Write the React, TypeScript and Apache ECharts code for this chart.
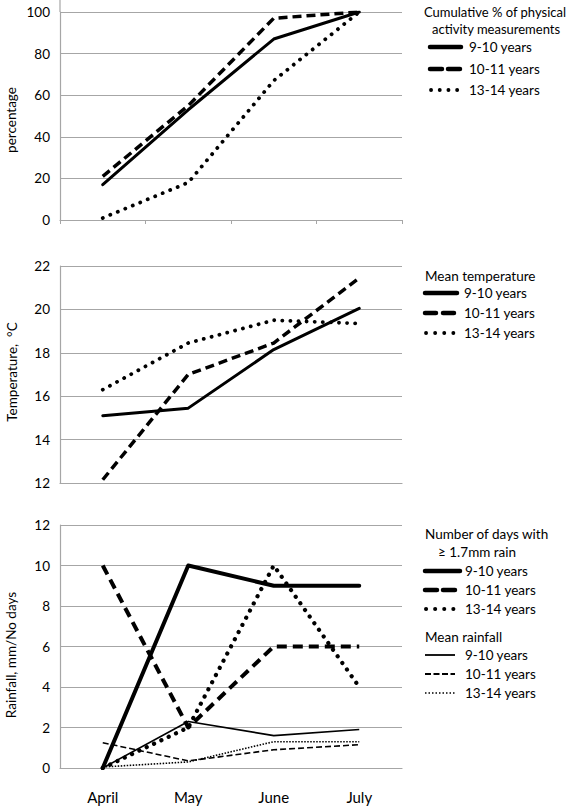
import React, { useEffect, useRef } from "react";
import * as echarts from "echarts";

const months = ["April", "May", "June", "July"];

const yTicksPct = { min: 0, max: 100, interval: 20 };
const yTicksTemp = { min: 12, max: 22, interval: 2 };
const yTicksRain = { min: 0, max: 12, interval: 2 };

const pct_9_10 = [17, 53, 87, 100];
const pct_10_11 = [21, 55, 97, 100];
const pct_13_14 = [1, 18, 67, 100];

const temp_9_10 = [15.1, 15.45, 18.15, 20.05];
const temp_10_11 = [12.15, 17.0, 18.45, 21.45];
const temp_13_14 = [16.3, 18.45, 19.5, 19.35];

const days_9_10 = [0, 10, 9, 9];
const days_10_11 = [10, 2, 6, 6];
const days_13_14 = [0, 2, 10, 4];

const meanRain_9_10 = [0, 2.3, 1.6, 1.9];
const meanRain_10_11 = [1.25, 0.35, 0.9, 1.15];
const meanRain_13_14 = [0.05, 0.3, 1.3, 1.3];

const FONT = "Lato";
const GRID_COLOR = "#a6a6a6";

function line(name: string, idx: number, data: number[], style: any) {
  return {
    name,
    type: "line",
    xAxisIndex: idx,
    yAxisIndex: idx,
    data,
    symbol: "none",
    showSymbol: false,
    lineStyle: { color: "#000", join: "round", ...style },
  };
}

const SOLID = { width: 3, type: "solid", cap: "round" };
const DASH = { width: 3.5, type: [9, 5], cap: "butt" };
const DOT = { width: 3.8, type: [0.1, 8], cap: "round" };

function txt(text: string, x: number, y: number, size = 13.5, extra: any = {}) {
  return {
    type: "text",
    x,
    y,
    silent: true,
    ...extra,
    style: {
      text,
      fill: "#000",
      font: `${size}px ${FONT}`,
      align: "left",
      verticalAlign: "middle",
      textAlign: "left",
      textVerticalAlign: "middle",
      ...(extra.style || {}),
    },
  };
}

function seg(x1: number, x2: number, y: number, width: number, dash: any, cap = "butt") {
  return {
    type: "line",
    silent: true,
    shape: { x1, y1: y, x2, y2: y },
    style: { stroke: "#000", lineWidth: width, lineDash: dash, lineCap: cap },
  };
}

function rotTxt(text: string, x: number, y: number) {
  return {
    type: "text",
    x,
    y,
    rotation: Math.PI / 2,
    silent: true,
    style: {
      text,
      fill: "#000",
      font: `13.5px ${FONT}`,
      align: "center",
      verticalAlign: "middle",
      textAlign: "center",
      textVerticalAlign: "middle",
    },
  };
}

export default function App() {
  const ref = useRef<HTMLDivElement>(null);
  useEffect(() => {
    document.body.style.margin = "0";
    const chart = echarts.init(ref.current!, null, { renderer: "svg" });
    const grids = [
      { left: 60, right: 165, top: 12, height: 208 },
      { left: 60, right: 165, top: 266, height: 217 },
      { left: 60, right: 165, top: 525, height: 243 },
    ];
    const axisLine = { show: true, lineStyle: { color: GRID_COLOR, width: 1.2 } };
    const xAxes = [0, 1, 2].map((i) => ({
      type: "category",
      gridIndex: i,
      data: months,
      boundaryGap: true,
      axisLine,
      axisTick: i === 0 ? { show: true, length: 4, lineStyle: { color: GRID_COLOR } } : { show: false },
      axisLabel:
        i === 2
          ? { show: true, color: "#000", fontSize: 15, fontFamily: FONT, margin: 21 }
          : { show: false },
      splitLine: { show: false },
    }));
    const yDefs = [yTicksPct, yTicksTemp, yTicksRain];
    const yAxes = yDefs.map((d, i) => ({
      type: "value",
      gridIndex: i,
      min: d.min,
      max: d.max,
      interval: d.interval,
      axisLine,
      axisTick: { show: false },
      axisLabel: { color: "#000", fontSize: 13.5, fontFamily: FONT, margin: 10 },
      splitLine: { show: true, lineStyle: { color: GRID_COLOR, width: 1.2 } },
    }));

    const series = [
      line("9-10 years", 0, pct_9_10, SOLID),
      line("10-11 years", 0, pct_10_11, DASH),
      line("13-14 years", 0, pct_13_14, DOT),
      line("9-10 years", 1, temp_9_10, SOLID),
      line("10-11 years", 1, temp_10_11, DASH),
      line("13-14 years", 1, temp_13_14, DOT),
      line("Days 9-10 years", 2, days_9_10, { width: 4, type: "solid", cap: "round" }),
      line("Days 10-11 years", 2, days_10_11, { width: 4, type: [10, 6], cap: "butt" }),
      line("Days 13-14 years", 2, days_13_14, { width: 4.2, type: [0.1, 8], cap: "round" }),
      line("Rain 9-10 years", 2, meanRain_9_10, { width: 1.6, type: "solid" }),
      line("Rain 10-11 years", 2, meanRain_10_11, { width: 1.6, type: [6, 3] }),
      line("Rain 13-14 years", 2, meanRain_13_14, { width: 1.6, type: [1.5, 1.5] }),
    ];

    const graphic: any[] = [
      {
        type: "line",
        silent: true,
        shape: { x1: 60, y1: 0, x2: 60, y2: 12 },
        style: { stroke: GRID_COLOR, lineWidth: 1.2 },
      },
      rotTxt("percentage", 11, 120),
      rotTxt("Temperature,  °C", 12, 372),
      rotTxt("Rainfall, mm/No days", 11, 655),
      // top legend
      txt("Cumulative % of physical", 424, 12, 13),
      txt("activity measurements", 432, 29, 13),
      seg(430, 461, 47, 4.5, null, "round"),
      txt("9-10 years", 469, 47),
      seg(430, 462, 69, 4.5, [12, 6], "round"),
      txt("10-11 years", 469, 69),
      seg(431, 460, 90, 3.8, [0.1, 8.6], "round"),
      txt("13-14 years", 469, 90),
      // middle legend
      txt("Mean temperature", 425, 276),
      seg(425, 457, 293, 4.5, null, "round"),
      txt("9-10 years", 464, 293),
      seg(425, 456, 313, 4.5, [11, 7], "round"),
      txt("10-11 years", 464, 313),
      seg(426, 455, 333, 3.8, [0.1, 9], "round"),
      txt("13-14 years", 464, 333),
      // bottom legend
      txt("Number of days with", 425, 534),
      txt("≥ 1.7mm rain", 438, 552),
      seg(425, 460, 571, 4.5, null, "round"),
      txt("9-10 years", 465, 571),
      seg(425, 460, 590, 4.5, [12, 6], "round"),
      txt("10-11 years", 465, 590),
      seg(426, 455, 609, 4, [0.1, 9], "round"),
      txt("13-14 years", 465, 609),
      txt("Mean rainfall", 425, 637),
      seg(425, 455, 655, 1.8, null, "butt"),
      txt("9-10 years", 465, 655),
      seg(425, 455, 674, 1.8, [6, 2.5], "butt"),
      txt("10-11 years", 465, 674),
      seg(425, 455, 693, 1.6, [1.5, 2], "butt"),
      txt("13-14 years", 465, 693),
    ];

    chart.setOption({
      animation: false,
      backgroundColor: "#fff",
      textStyle: { fontFamily: FONT },
      grid: grids,
      xAxis: xAxes,
      yAxis: yAxes,
      series,
      graphic,
    });
    return () => chart.dispose();
  }, []);
  return (
    <div
      ref={ref}
      style={{ position: "absolute", left: 0, top: 0, width: 567, height: 807 }}
    />
  );
}
